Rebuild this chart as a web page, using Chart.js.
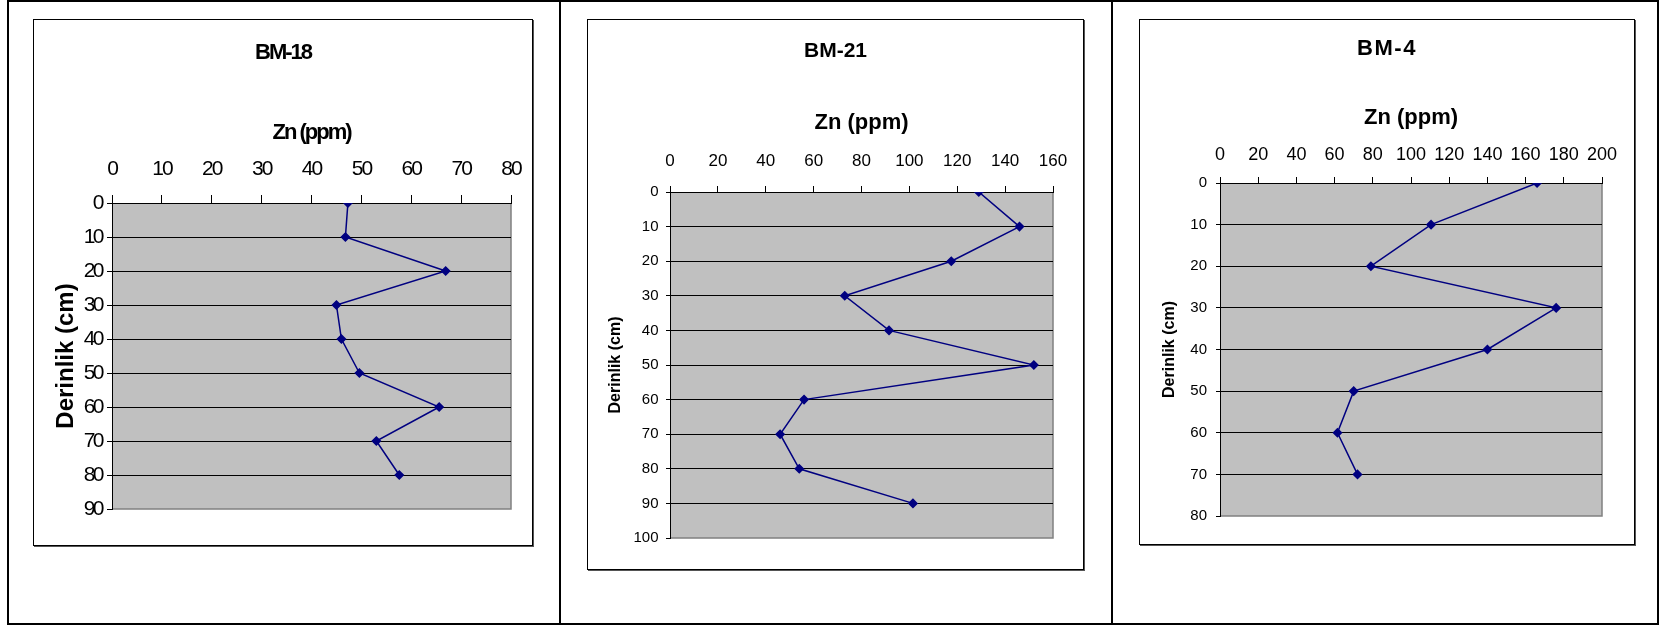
<!DOCTYPE html>
<html>
<head>
<meta charset="utf-8">
<script src="https://cdn.jsdelivr.net/npm/chart.js@4.4.1/dist/chart.umd.min.js"></script>
<style>
html, body { margin: 0; padding: 0; background: #fff; }
body { width: 1659px; height: 625px; position: relative; overflow: hidden; }
.rule { position: absolute; background: #000; }
.frame { position: absolute; border: 1px solid #000; box-shadow: 1px 1px 0 #555; box-sizing: border-box; pointer-events: none; }
canvas { position: absolute; }
</style>
</head>
<body>
<!-- table rules round the three panels -->
<div class="rule" style="left:7px;top:0;width:1652px;height:2px"></div>
<div class="rule" style="left:7px;top:623px;width:1652px;height:2px"></div>
<div class="rule" style="left:7px;top:0;width:2px;height:625px"></div>
<div class="rule" style="left:559px;top:0;width:2px;height:625px"></div>
<div class="rule" style="left:1111px;top:0;width:2px;height:625px"></div>
<div class="rule" style="left:1657px;top:0;width:2px;height:625px"></div>

<canvas id="c18" width="500" height="527" style="left:33px;top:19px"></canvas>
<div class="frame" style="left:33px;top:19px;width:500px;height:527px"></div>
<canvas id="c21" width="497" height="551" style="left:587px;top:19px"></canvas>
<div class="frame" style="left:587px;top:19px;width:497px;height:551px"></div>
<canvas id="c4" width="496" height="526" style="left:1139px;top:19px"></canvas>
<div class="frame" style="left:1139px;top:19px;width:496px;height:526px"></div>

<script>
// BM-18
var depth18 = [0, 10, 20, 30, 40, 50, 60, 70, 80];
var zn18 = [47.3, 46.8, 66.9, 45.0, 46.0, 49.6, 65.6, 53.0, 57.6];
var xAxis18 = [0, 80, 10];   // min, max, step
var yAxis18 = [0, 90, 10];

// BM-21
var depth21 = [0, 10, 20, 30, 40, 50, 60, 70, 80, 90];
var zn21 = [129, 146, 117.5, 73, 91.5, 152, 56, 46, 54, 101.5];
var xAxis21 = [0, 160, 20];
var yAxis21 = [0, 100, 10];

// BM-4
var depth4 = [0, 10, 20, 30, 40, 50, 60, 70];
var zn4 = [166, 110.5, 79, 176, 140, 70, 61.5, 72];
var xAxis4 = [0, 200, 20];
var yAxis4 = [0, 80, 10];

var xTitle = 'Zn (ppm)';
var yTitle = 'Derinlik (cm)';

var ARIAL = "'Liberation Sans', Arial, sans-serif";

// grey plot area, grey edge on right and bottom like the excel sheet
var plotBg = {
    id: 'plotBg',
    beforeDraw: function(chart) {
        var a = chart.chartArea, c = chart.ctx;
        c.save();
        c.fillStyle = '#c0c0c0';
        c.fillRect(a.left, a.top, a.right - a.left, a.bottom - a.top);
        c.strokeStyle = '#808080';
        c.lineWidth = 1.5;
        c.beginPath();
        c.moveTo(a.right, a.top);
        c.lineTo(a.right, a.bottom);
        c.lineTo(a.left, a.bottom);
        c.stroke();
        c.restore();
    }
};

// squeeze or widen the text drawn by one part of a chart
function withSpacing(obj, name, px) {
    var orig = obj[name];
    obj[name] = function() {
        var c = this.ctx, old = c.letterSpacing;
        c.letterSpacing = px + 'px';
        orig.apply(this, arguments);
        c.letterSpacing = old;
    };
}

function toPoints(xs, ys) {
    return ys.map(function(d, i) { return { x: xs[i], y: d }; });
}

function makeChart(id, title, zn, depth, xr, yr, o) {
    var ctx = document.getElementById(id).getContext('2d');
    return new Chart(ctx, {
        type: 'line',
        data: {
            datasets: [{
                data: toPoints(zn, depth),
                borderColor: '#000080',
                backgroundColor: '#000080',
                borderWidth: 1.5,
                pointStyle: 'rectRot',
                pointRadius: 4,
                pointHoverRadius: 4,
                tension: 0,
                fill: false
            }]
        },
        options: {
            responsive: false,
            animation: false,
            devicePixelRatio: 1,
            layout: { padding: { left: o.gap, right: o.gap, top: 0, bottom: o.bottom } },
            plugins: {
                legend: { display: false },
                tooltip: { enabled: false },
                title: {
                    display: true,
                    text: title,
                    color: '#000',
                    font: { family: ARIAL, size: o.titleSize, weight: 'bold', lineHeight: 1.2 },
                    padding: { top: o.titlePad, bottom: 0 }
                }
            },
            scales: {
                x: {
                    type: 'linear',
                    position: 'top',
                    min: xr[0], max: xr[1],
                    afterFit: function(s) { s.height = o.xH; s.paddingLeft = 0; s.paddingRight = 0; },
                    ticks: {
                        stepSize: xr[2], autoSkip: false, maxRotation: 0, color: '#000',
                        padding: o.xTickPad,
                        font: { family: ARIAL, size: o.xTickSize }
                    },
                    grid: { drawOnChartArea: false, drawTicks: true, tickLength: o.xTickLen, color: '#000' },
                    border: { display: true, color: '#000', width: 1 },
                    title: {
                        display: true, text: xTitle, color: '#000',
                        font: { family: ARIAL, size: 22, weight: 'bold', lineHeight: 1.2 },
                        padding: { top: o.xTitlePad, bottom: 0 }
                    }
                },
                y: {
                    type: 'linear',
                    reverse: true,
                    min: yr[0], max: yr[1],
                    afterFit: function(s) { s.width = o.yW; s.paddingTop = 0; s.paddingBottom = 0; },
                    ticks: {
                        stepSize: yr[2], autoSkip: false, color: '#000',
                        padding: o.yTickPad,
                        font: { family: ARIAL, size: o.yTickSize }
                    },
                    grid: {
                        color: function(c) { return c.tick && c.tick.value === yr[1] ? 'rgba(0,0,0,0)' : '#000'; },
                        tickColor: '#000',
                        tickLength: o.yTickLen,
                        lineWidth: 1
                    },
                    border: { display: true, color: '#000', width: 1 },
                    title: {
                        display: true, text: yTitle, color: '#000',
                        font: { family: ARIAL, size: o.yTitleSize, weight: 'bold', lineHeight: 1 },
                        padding: { top: o.yTitlePad, bottom: 0 }
                    }
                }
            }
        },
        plugins: [plotBg]
    });
}

var chart18 = makeChart('c18', 'BM-18', zn18, depth18, xAxis18, yAxis18, {
    gap: 22, bottom: 37,
    titleSize: 22, titlePad: 20.8,
    xH: 136.8, xTitlePad: 53.6,
    xTickSize: 21, xTickPad: 13.4, xTickLen: 8,
    yW: 57, yTitleSize: 24, yTitlePad: -0.3,
    yTickSize: 21, yTickPad: 5, yTickLen: 5
});
// the first sheet uses a condensed face, except for the depth title
withSpacing(chart18.titleBlock, 'draw', -2);
withSpacing(chart18.scales.x, 'draw', -2);
withSpacing(chart18.scales.y, 'drawLabels', -2.5);
chart18.update();

makeChart('c21', 'BM-21', zn21, depth21, xAxis21, yAxis21, {
    gap: 31, bottom: 32,
    titleSize: 21, titlePad: 20.1,
    xH: 127.7, xTitlePad: 45,
    xTickSize: 17, xTickPad: 14, xTickLen: 6,
    yW: 52, yTitleSize: 16, yTitlePad: -10.5,
    yTickSize: 15, yTickPad: 7.5, yTickLen: 4
});

var chart4 = makeChart('c4', 'BM-4', zn4, depth4, xAxis4, yAxis4, {
    gap: 33, bottom: 29,
    titleSize: 22, titlePad: 16.5,
    xH: 121.1, xTitlePad: 42.9,
    xTickSize: 18, xTickPad: 11.4, xTickLen: 6,
    yW: 48, yTitleSize: 16, yTitlePad: -10,
    yTickSize: 15, yTickPad: 9, yTickLen: 4
});
withSpacing(chart4.titleBlock, 'draw', 1.5);
chart4.update();
</script>
</body>
</html>
